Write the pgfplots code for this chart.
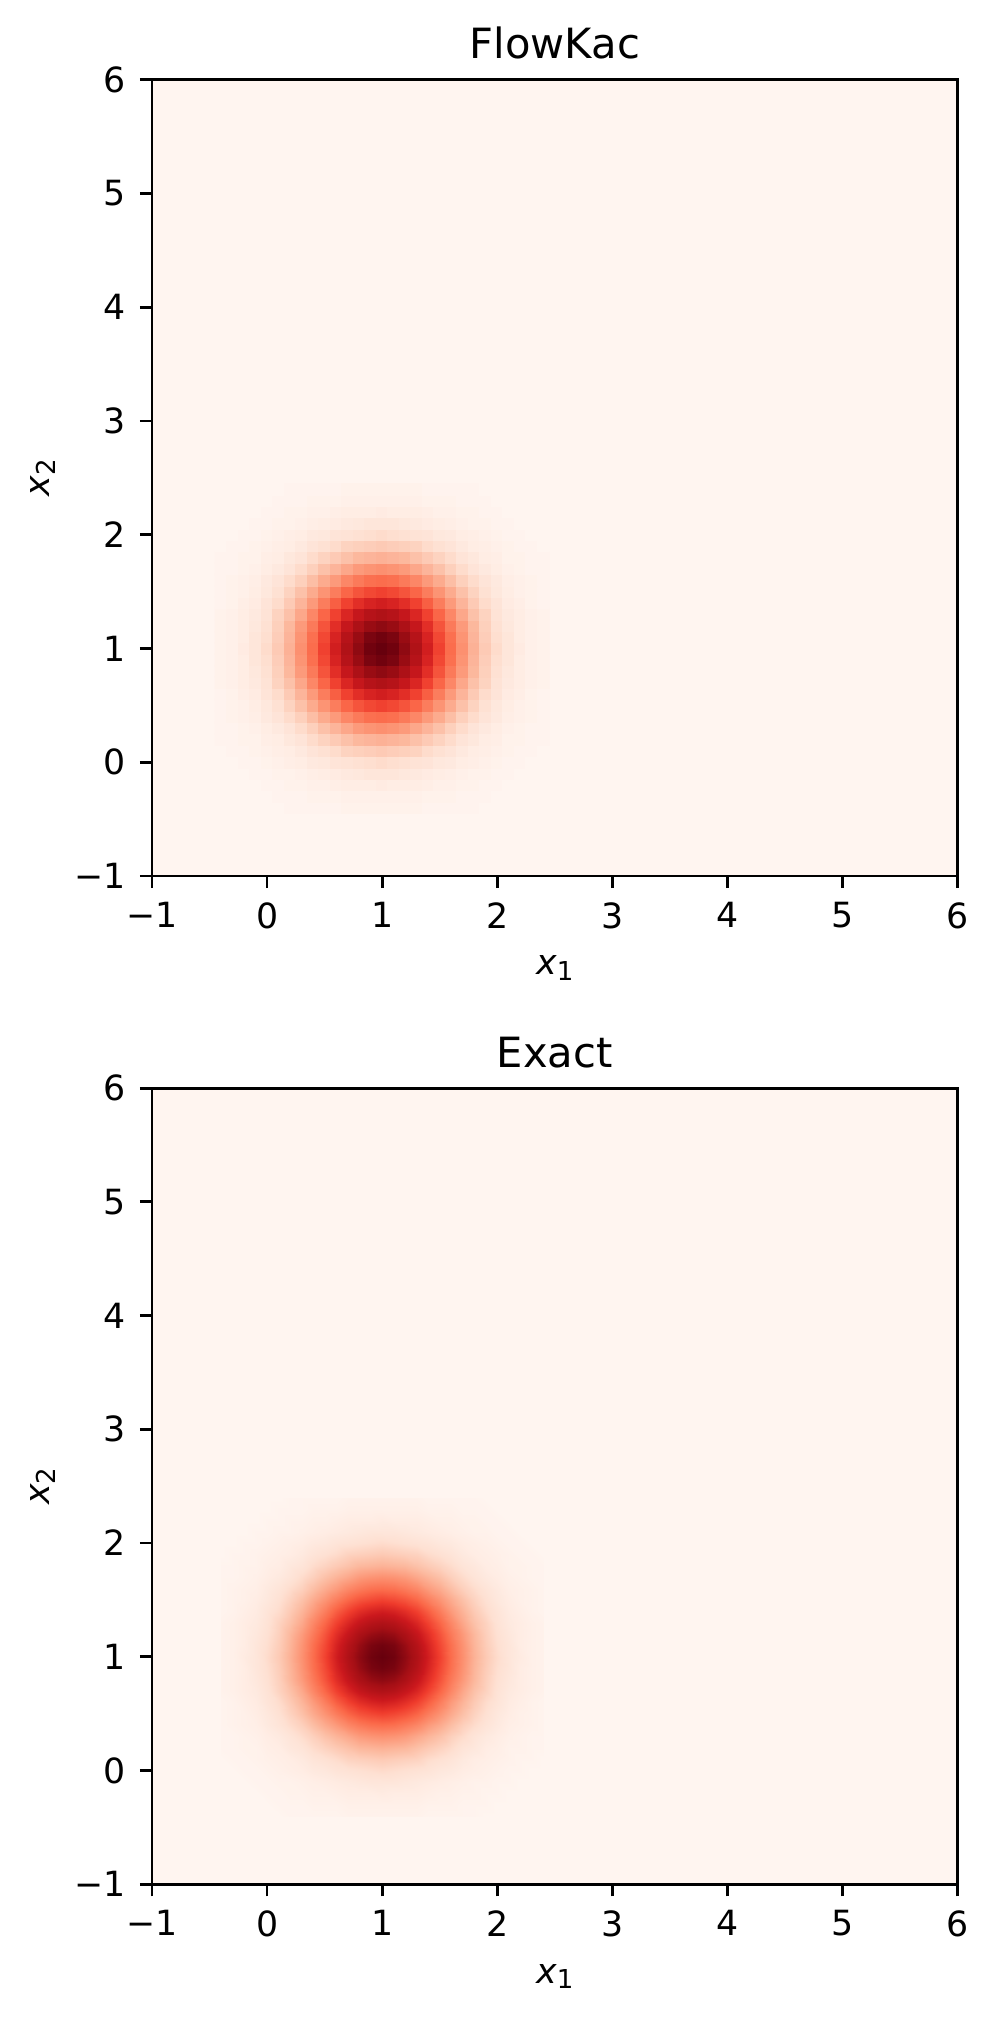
\documentclass[border=0pt]{standalone}
\usepackage{fontspec}
\setmainfont{DejaVu Sans}[ItalicFont={DejaVu Sans Oblique}]
\usepackage{pgfplots}
\pgfplotsset{compat=1.18}
\usepackage{pgfplotstable}
\definecolor{bg}{RGB}{255,245,240}

\pgfplotstableread{
x y c
-0.4 -0.4 0
-0.3 -0.4 0
-0.2 -0.4 0
-0.1 -0.4 0
0 -0.4 0
0.1 -0.4 0
0.2 -0.4 0.01
0.3 -0.4 0.01
0.4 -0.4 0.01
0.5 -0.4 0.01
0.6 -0.4 0.01
0.7 -0.4 0.02
0.8 -0.4 0.02
0.9 -0.4 0.02
1 -0.4 0.02
1.1 -0.4 0.02
1.2 -0.4 0.02
1.3 -0.4 0.02
1.4 -0.4 0.01
1.5 -0.4 0.01
1.6 -0.4 0.01
1.7 -0.4 0.01
1.8 -0.4 0.01
1.9 -0.4 0
2 -0.4 0
2.1 -0.4 0
2.2 -0.4 0
2.3 -0.4 0
2.4 -0.4 0
-0.4 -0.3 0
-0.3 -0.3 0
-0.2 -0.3 0
-0.1 -0.3 0
0 -0.3 0
0.1 -0.3 0.01
0.2 -0.3 0.01
0.3 -0.3 0.01
0.4 -0.3 0.02
0.5 -0.3 0.02
0.6 -0.3 0.02
0.7 -0.3 0.03
0.8 -0.3 0.03
0.9 -0.3 0.03
1 -0.3 0.03
1.1 -0.3 0.03
1.2 -0.3 0.03
1.3 -0.3 0.03
1.4 -0.3 0.02
1.5 -0.3 0.02
1.6 -0.3 0.02
1.7 -0.3 0.01
1.8 -0.3 0.01
1.9 -0.3 0.01
2 -0.3 0
2.1 -0.3 0
2.2 -0.3 0
2.3 -0.3 0
2.4 -0.3 0
-0.4 -0.2 0
-0.3 -0.2 0
-0.2 -0.2 0
-0.1 -0.2 0
0 -0.2 0.01
0.1 -0.2 0.01
0.2 -0.2 0.02
0.3 -0.2 0.02
0.4 -0.2 0.03
0.5 -0.2 0.03
0.6 -0.2 0.04
0.7 -0.2 0.05
0.8 -0.2 0.05
0.9 -0.2 0.05
1 -0.2 0.06
1.1 -0.2 0.05
1.2 -0.2 0.05
1.3 -0.2 0.05
1.4 -0.2 0.04
1.5 -0.2 0.03
1.6 -0.2 0.03
1.7 -0.2 0.02
1.8 -0.2 0.02
1.9 -0.2 0.01
2 -0.2 0.01
2.1 -0.2 0
2.2 -0.2 0
2.3 -0.2 0
2.4 -0.2 0
-0.4 -0.1 0
-0.3 -0.1 0
-0.2 -0.1 0
-0.1 -0.1 0.01
0 -0.1 0.01
0.1 -0.1 0.02
0.2 -0.1 0.02
0.3 -0.1 0.03
0.4 -0.1 0.04
0.5 -0.1 0.05
0.6 -0.1 0.06
0.7 -0.1 0.07
0.8 -0.1 0.08
0.9 -0.1 0.09
1 -0.1 0.09
1.1 -0.1 0.09
1.2 -0.1 0.08
1.3 -0.1 0.07
1.4 -0.1 0.06
1.5 -0.1 0.05
1.6 -0.1 0.04
1.7 -0.1 0.03
1.8 -0.1 0.02
1.9 -0.1 0.02
2 -0.1 0.01
2.1 -0.1 0.01
2.2 -0.1 0
2.3 -0.1 0
2.4 -0.1 0
-0.4 0 0
-0.3 0 0
-0.2 0 0.01
-0.1 0 0.01
0 0 0.02
0.1 0 0.03
0.2 0 0.04
0.3 0 0.05
0.4 0 0.07
0.5 0 0.08
0.6 0 0.10
0.7 0 0.11
0.8 0 0.12
0.9 0 0.13
1 0 0.14
1.1 0 0.13
1.2 0 0.12
1.3 0 0.11
1.4 0 0.10
1.5 0 0.08
1.6 0 0.07
1.7 0 0.05
1.8 0 0.04
1.9 0 0.03
2 0 0.02
2.1 0 0.01
2.2 0 0.01
2.3 0 0
2.4 0 0
-0.4 0.1 0
-0.3 0.1 0.01
-0.2 0.1 0.01
-0.1 0.1 0.02
0 0.1 0.03
0.1 0.1 0.04
0.2 0.1 0.05
0.3 0.1 0.07
0.4 0.1 0.10
0.5 0.1 0.12
0.6 0.1 0.14
0.7 0.1 0.17
0.8 0.1 0.18
0.9 0.1 0.19
1 0.1 0.20
1.1 0.1 0.19
1.2 0.1 0.18
1.3 0.1 0.17
1.4 0.1 0.14
1.5 0.1 0.12
1.6 0.1 0.10
1.7 0.1 0.07
1.8 0.1 0.05
1.9 0.1 0.04
2 0.1 0.03
2.1 0.1 0.02
2.2 0.1 0.01
2.3 0.1 0.01
2.4 0.1 0
-0.4 0.2 0.01
-0.3 0.2 0.01
-0.2 0.2 0.02
-0.1 0.2 0.02
0 0.2 0.04
0.1 0.2 0.05
0.2 0.2 0.08
0.3 0.2 0.10
0.4 0.2 0.14
0.5 0.2 0.17
0.6 0.2 0.20
0.7 0.2 0.23
0.8 0.2 0.26
0.9 0.2 0.27
1 0.2 0.28
1.1 0.2 0.27
1.2 0.2 0.26
1.3 0.2 0.23
1.4 0.2 0.20
1.5 0.2 0.17
1.6 0.2 0.14
1.7 0.2 0.10
1.8 0.2 0.08
1.9 0.2 0.05
2 0.2 0.04
2.1 0.2 0.02
2.2 0.2 0.02
2.3 0.2 0.01
2.4 0.2 0.01
-0.4 0.3 0.01
-0.3 0.3 0.01
-0.2 0.3 0.02
-0.1 0.3 0.03
0 0.3 0.05
0.1 0.3 0.07
0.2 0.3 0.10
0.3 0.3 0.14
0.4 0.3 0.18
0.5 0.3 0.23
0.6 0.3 0.27
0.7 0.3 0.31
0.8 0.3 0.35
0.9 0.3 0.37
1 0.3 0.38
1.1 0.3 0.37
1.2 0.3 0.35
1.3 0.3 0.31
1.4 0.3 0.27
1.5 0.3 0.23
1.6 0.3 0.18
1.7 0.3 0.14
1.8 0.3 0.10
1.9 0.3 0.07
2 0.3 0.05
2.1 0.3 0.03
2.2 0.3 0.02
2.3 0.3 0.01
2.4 0.3 0.01
-0.4 0.4 0.01
-0.3 0.4 0.02
-0.2 0.4 0.03
-0.1 0.4 0.04
0 0.4 0.07
0.1 0.4 0.10
0.2 0.4 0.14
0.3 0.4 0.18
0.4 0.4 0.24
0.5 0.4 0.30
0.6 0.4 0.35
0.7 0.4 0.41
0.8 0.4 0.45
0.9 0.4 0.48
1 0.4 0.49
1.1 0.4 0.48
1.2 0.4 0.45
1.3 0.4 0.41
1.4 0.4 0.35
1.5 0.4 0.30
1.6 0.4 0.24
1.7 0.4 0.18
1.8 0.4 0.14
1.9 0.4 0.10
2 0.4 0.07
2.1 0.4 0.04
2.2 0.4 0.03
2.3 0.4 0.02
2.4 0.4 0.01
-0.4 0.5 0.01
-0.3 0.5 0.02
-0.2 0.5 0.03
-0.1 0.5 0.05
0 0.5 0.08
0.1 0.5 0.12
0.2 0.5 0.17
0.3 0.5 0.23
0.4 0.5 0.30
0.5 0.5 0.37
0.6 0.5 0.44
0.7 0.5 0.51
0.8 0.5 0.56
0.9 0.5 0.59
1 0.5 0.61
1.1 0.5 0.59
1.2 0.5 0.56
1.3 0.5 0.51
1.4 0.5 0.44
1.5 0.5 0.37
1.6 0.5 0.30
1.7 0.5 0.23
1.8 0.5 0.17
1.9 0.5 0.12
2 0.5 0.08
2.1 0.5 0.05
2.2 0.5 0.03
2.3 0.5 0.02
2.4 0.5 0.01
-0.4 0.6 0.01
-0.3 0.6 0.02
-0.2 0.6 0.04
-0.1 0.6 0.06
0 0.6 0.10
0.1 0.6 0.14
0.2 0.6 0.20
0.3 0.6 0.27
0.4 0.6 0.35
0.5 0.6 0.44
0.6 0.6 0.53
0.7 0.6 0.61
0.8 0.6 0.67
0.9 0.6 0.71
1 0.6 0.73
1.1 0.6 0.71
1.2 0.6 0.67
1.3 0.6 0.61
1.4 0.6 0.53
1.5 0.6 0.44
1.6 0.6 0.35
1.7 0.6 0.27
1.8 0.6 0.20
1.9 0.6 0.14
2 0.6 0.10
2.1 0.6 0.06
2.2 0.6 0.04
2.3 0.6 0.02
2.4 0.6 0.01
-0.4 0.7 0.02
-0.3 0.7 0.03
-0.2 0.7 0.05
-0.1 0.7 0.07
0 0.7 0.11
0.1 0.7 0.17
0.2 0.7 0.23
0.3 0.7 0.31
0.4 0.7 0.41
0.5 0.7 0.51
0.6 0.7 0.61
0.7 0.7 0.70
0.8 0.7 0.77
0.9 0.7 0.82
1 0.7 0.84
1.1 0.7 0.82
1.2 0.7 0.77
1.3 0.7 0.70
1.4 0.7 0.61
1.5 0.7 0.51
1.6 0.7 0.41
1.7 0.7 0.31
1.8 0.7 0.23
1.9 0.7 0.17
2 0.7 0.11
2.1 0.7 0.07
2.2 0.7 0.05
2.3 0.7 0.03
2.4 0.7 0.02
-0.4 0.8 0.02
-0.3 0.8 0.03
-0.2 0.8 0.05
-0.1 0.8 0.08
0 0.8 0.12
0.1 0.8 0.18
0.2 0.8 0.26
0.3 0.8 0.35
0.4 0.8 0.45
0.5 0.8 0.56
0.6 0.8 0.67
0.7 0.8 0.77
0.8 0.8 0.85
0.9 0.8 0.90
1 0.8 0.92
1.1 0.8 0.90
1.2 0.8 0.85
1.3 0.8 0.77
1.4 0.8 0.67
1.5 0.8 0.56
1.6 0.8 0.45
1.7 0.8 0.35
1.8 0.8 0.26
1.9 0.8 0.18
2 0.8 0.12
2.1 0.8 0.08
2.2 0.8 0.05
2.3 0.8 0.03
2.4 0.8 0.02
-0.4 0.9 0.02
-0.3 0.9 0.03
-0.2 0.9 0.05
-0.1 0.9 0.09
0 0.9 0.13
0.1 0.9 0.19
0.2 0.9 0.27
0.3 0.9 0.37
0.4 0.9 0.48
0.5 0.9 0.59
0.6 0.9 0.71
0.7 0.9 0.82
0.8 0.9 0.90
0.9 0.9 0.96
1 0.9 0.98
1.1 0.9 0.96
1.2 0.9 0.90
1.3 0.9 0.82
1.4 0.9 0.71
1.5 0.9 0.59
1.6 0.9 0.48
1.7 0.9 0.37
1.8 0.9 0.27
1.9 0.9 0.19
2 0.9 0.13
2.1 0.9 0.09
2.2 0.9 0.05
2.3 0.9 0.03
2.4 0.9 0.02
-0.4 1 0.02
-0.3 1 0.03
-0.2 1 0.06
-0.1 1 0.09
0 1 0.14
0.1 1 0.20
0.2 1 0.28
0.3 1 0.38
0.4 1 0.49
0.5 1 0.61
0.6 1 0.73
0.7 1 0.84
0.8 1 0.92
0.9 1 0.98
1 1 1
1.1 1 0.98
1.2 1 0.92
1.3 1 0.84
1.4 1 0.73
1.5 1 0.61
1.6 1 0.49
1.7 1 0.38
1.8 1 0.28
1.9 1 0.20
2 1 0.14
2.1 1 0.09
2.2 1 0.06
2.3 1 0.03
2.4 1 0.02
-0.4 1.1 0.02
-0.3 1.1 0.03
-0.2 1.1 0.05
-0.1 1.1 0.09
0 1.1 0.13
0.1 1.1 0.19
0.2 1.1 0.27
0.3 1.1 0.37
0.4 1.1 0.48
0.5 1.1 0.59
0.6 1.1 0.71
0.7 1.1 0.82
0.8 1.1 0.90
0.9 1.1 0.96
1 1.1 0.98
1.1 1.1 0.96
1.2 1.1 0.90
1.3 1.1 0.82
1.4 1.1 0.71
1.5 1.1 0.59
1.6 1.1 0.48
1.7 1.1 0.37
1.8 1.1 0.27
1.9 1.1 0.19
2 1.1 0.13
2.1 1.1 0.09
2.2 1.1 0.05
2.3 1.1 0.03
2.4 1.1 0.02
-0.4 1.2 0.02
-0.3 1.2 0.03
-0.2 1.2 0.05
-0.1 1.2 0.08
0 1.2 0.12
0.1 1.2 0.18
0.2 1.2 0.26
0.3 1.2 0.35
0.4 1.2 0.45
0.5 1.2 0.56
0.6 1.2 0.67
0.7 1.2 0.77
0.8 1.2 0.85
0.9 1.2 0.90
1 1.2 0.92
1.1 1.2 0.90
1.2 1.2 0.85
1.3 1.2 0.77
1.4 1.2 0.67
1.5 1.2 0.56
1.6 1.2 0.45
1.7 1.2 0.35
1.8 1.2 0.26
1.9 1.2 0.18
2 1.2 0.12
2.1 1.2 0.08
2.2 1.2 0.05
2.3 1.2 0.03
2.4 1.2 0.02
-0.4 1.3 0.02
-0.3 1.3 0.03
-0.2 1.3 0.05
-0.1 1.3 0.07
0 1.3 0.11
0.1 1.3 0.17
0.2 1.3 0.23
0.3 1.3 0.31
0.4 1.3 0.41
0.5 1.3 0.51
0.6 1.3 0.61
0.7 1.3 0.70
0.8 1.3 0.77
0.9 1.3 0.82
1 1.3 0.84
1.1 1.3 0.82
1.2 1.3 0.77
1.3 1.3 0.70
1.4 1.3 0.61
1.5 1.3 0.51
1.6 1.3 0.41
1.7 1.3 0.31
1.8 1.3 0.23
1.9 1.3 0.17
2 1.3 0.11
2.1 1.3 0.07
2.2 1.3 0.05
2.3 1.3 0.03
2.4 1.3 0.02
-0.4 1.4 0.01
-0.3 1.4 0.02
-0.2 1.4 0.04
-0.1 1.4 0.06
0 1.4 0.10
0.1 1.4 0.14
0.2 1.4 0.20
0.3 1.4 0.27
0.4 1.4 0.35
0.5 1.4 0.44
0.6 1.4 0.53
0.7 1.4 0.61
0.8 1.4 0.67
0.9 1.4 0.71
1 1.4 0.73
1.1 1.4 0.71
1.2 1.4 0.67
1.3 1.4 0.61
1.4 1.4 0.53
1.5 1.4 0.44
1.6 1.4 0.35
1.7 1.4 0.27
1.8 1.4 0.20
1.9 1.4 0.14
2 1.4 0.10
2.1 1.4 0.06
2.2 1.4 0.04
2.3 1.4 0.02
2.4 1.4 0.01
-0.4 1.5 0.01
-0.3 1.5 0.02
-0.2 1.5 0.03
-0.1 1.5 0.05
0 1.5 0.08
0.1 1.5 0.12
0.2 1.5 0.17
0.3 1.5 0.23
0.4 1.5 0.30
0.5 1.5 0.37
0.6 1.5 0.44
0.7 1.5 0.51
0.8 1.5 0.56
0.9 1.5 0.59
1 1.5 0.61
1.1 1.5 0.59
1.2 1.5 0.56
1.3 1.5 0.51
1.4 1.5 0.44
1.5 1.5 0.37
1.6 1.5 0.30
1.7 1.5 0.23
1.8 1.5 0.17
1.9 1.5 0.12
2 1.5 0.08
2.1 1.5 0.05
2.2 1.5 0.03
2.3 1.5 0.02
2.4 1.5 0.01
-0.4 1.6 0.01
-0.3 1.6 0.02
-0.2 1.6 0.03
-0.1 1.6 0.04
0 1.6 0.07
0.1 1.6 0.10
0.2 1.6 0.14
0.3 1.6 0.18
0.4 1.6 0.24
0.5 1.6 0.30
0.6 1.6 0.35
0.7 1.6 0.41
0.8 1.6 0.45
0.9 1.6 0.48
1 1.6 0.49
1.1 1.6 0.48
1.2 1.6 0.45
1.3 1.6 0.41
1.4 1.6 0.35
1.5 1.6 0.30
1.6 1.6 0.24
1.7 1.6 0.18
1.8 1.6 0.14
1.9 1.6 0.10
2 1.6 0.07
2.1 1.6 0.04
2.2 1.6 0.03
2.3 1.6 0.02
2.4 1.6 0.01
-0.4 1.7 0.01
-0.3 1.7 0.01
-0.2 1.7 0.02
-0.1 1.7 0.03
0 1.7 0.05
0.1 1.7 0.07
0.2 1.7 0.10
0.3 1.7 0.14
0.4 1.7 0.18
0.5 1.7 0.23
0.6 1.7 0.27
0.7 1.7 0.31
0.8 1.7 0.35
0.9 1.7 0.37
1 1.7 0.38
1.1 1.7 0.37
1.2 1.7 0.35
1.3 1.7 0.31
1.4 1.7 0.27
1.5 1.7 0.23
1.6 1.7 0.18
1.7 1.7 0.14
1.8 1.7 0.10
1.9 1.7 0.07
2 1.7 0.05
2.1 1.7 0.03
2.2 1.7 0.02
2.3 1.7 0.01
2.4 1.7 0.01
-0.4 1.8 0.01
-0.3 1.8 0.01
-0.2 1.8 0.02
-0.1 1.8 0.02
0 1.8 0.04
0.1 1.8 0.05
0.2 1.8 0.08
0.3 1.8 0.10
0.4 1.8 0.14
0.5 1.8 0.17
0.6 1.8 0.20
0.7 1.8 0.23
0.8 1.8 0.26
0.9 1.8 0.27
1 1.8 0.28
1.1 1.8 0.27
1.2 1.8 0.26
1.3 1.8 0.23
1.4 1.8 0.20
1.5 1.8 0.17
1.6 1.8 0.14
1.7 1.8 0.10
1.8 1.8 0.08
1.9 1.8 0.05
2 1.8 0.04
2.1 1.8 0.02
2.2 1.8 0.02
2.3 1.8 0.01
2.4 1.8 0.01
-0.4 1.9 0
-0.3 1.9 0.01
-0.2 1.9 0.01
-0.1 1.9 0.02
0 1.9 0.03
0.1 1.9 0.04
0.2 1.9 0.05
0.3 1.9 0.07
0.4 1.9 0.10
0.5 1.9 0.12
0.6 1.9 0.14
0.7 1.9 0.17
0.8 1.9 0.18
0.9 1.9 0.19
1 1.9 0.20
1.1 1.9 0.19
1.2 1.9 0.18
1.3 1.9 0.17
1.4 1.9 0.14
1.5 1.9 0.12
1.6 1.9 0.10
1.7 1.9 0.07
1.8 1.9 0.05
1.9 1.9 0.04
2 1.9 0.03
2.1 1.9 0.02
2.2 1.9 0.01
2.3 1.9 0.01
2.4 1.9 0
-0.4 2 0
-0.3 2 0
-0.2 2 0.01
-0.1 2 0.01
0 2 0.02
0.1 2 0.03
0.2 2 0.04
0.3 2 0.05
0.4 2 0.07
0.5 2 0.08
0.6 2 0.10
0.7 2 0.11
0.8 2 0.12
0.9 2 0.13
1 2 0.14
1.1 2 0.13
1.2 2 0.12
1.3 2 0.11
1.4 2 0.10
1.5 2 0.08
1.6 2 0.07
1.7 2 0.05
1.8 2 0.04
1.9 2 0.03
2 2 0.02
2.1 2 0.01
2.2 2 0.01
2.3 2 0
2.4 2 0
-0.4 2.1 0
-0.3 2.1 0
-0.2 2.1 0
-0.1 2.1 0.01
0 2.1 0.01
0.1 2.1 0.02
0.2 2.1 0.02
0.3 2.1 0.03
0.4 2.1 0.04
0.5 2.1 0.05
0.6 2.1 0.06
0.7 2.1 0.07
0.8 2.1 0.08
0.9 2.1 0.09
1 2.1 0.09
1.1 2.1 0.09
1.2 2.1 0.08
1.3 2.1 0.07
1.4 2.1 0.06
1.5 2.1 0.05
1.6 2.1 0.04
1.7 2.1 0.03
1.8 2.1 0.02
1.9 2.1 0.02
2 2.1 0.01
2.1 2.1 0.01
2.2 2.1 0
2.3 2.1 0
2.4 2.1 0
-0.4 2.2 0
-0.3 2.2 0
-0.2 2.2 0
-0.1 2.2 0
0 2.2 0.01
0.1 2.2 0.01
0.2 2.2 0.02
0.3 2.2 0.02
0.4 2.2 0.03
0.5 2.2 0.03
0.6 2.2 0.04
0.7 2.2 0.05
0.8 2.2 0.05
0.9 2.2 0.05
1 2.2 0.06
1.1 2.2 0.05
1.2 2.2 0.05
1.3 2.2 0.05
1.4 2.2 0.04
1.5 2.2 0.03
1.6 2.2 0.03
1.7 2.2 0.02
1.8 2.2 0.02
1.9 2.2 0.01
2 2.2 0.01
2.1 2.2 0
2.2 2.2 0
2.3 2.2 0
2.4 2.2 0
-0.4 2.3 0
-0.3 2.3 0
-0.2 2.3 0
-0.1 2.3 0
0 2.3 0
0.1 2.3 0.01
0.2 2.3 0.01
0.3 2.3 0.01
0.4 2.3 0.02
0.5 2.3 0.02
0.6 2.3 0.02
0.7 2.3 0.03
0.8 2.3 0.03
0.9 2.3 0.03
1 2.3 0.03
1.1 2.3 0.03
1.2 2.3 0.03
1.3 2.3 0.03
1.4 2.3 0.02
1.5 2.3 0.02
1.6 2.3 0.02
1.7 2.3 0.01
1.8 2.3 0.01
1.9 2.3 0.01
2 2.3 0
2.1 2.3 0
2.2 2.3 0
2.3 2.3 0
2.4 2.3 0
-0.4 2.4 0
-0.3 2.4 0
-0.2 2.4 0
-0.1 2.4 0
0 2.4 0
0.1 2.4 0
0.2 2.4 0.01
0.3 2.4 0.01
0.4 2.4 0.01
0.5 2.4 0.01
0.6 2.4 0.01
0.7 2.4 0.02
0.8 2.4 0.02
0.9 2.4 0.02
1 2.4 0.02
1.1 2.4 0.02
1.2 2.4 0.02
1.3 2.4 0.02
1.4 2.4 0.01
1.5 2.4 0.01
1.6 2.4 0.01
1.7 2.4 0.01
1.8 2.4 0.01
1.9 2.4 0
2 2.4 0
2.1 2.4 0
2.2 2.4 0
2.3 2.4 0
2.4 2.4 0
}\dens

\newcommand{\lab}[1]{\textit{x}\raisebox{-1.5pt}{\fontsize{7.5}{9}\selectfont #1}}

\pgfplotsset{
  myax/.style={
    scale only axis, width=232pt, height=229.3pt,
    xmin=-1, xmax=6, ymin=-1, ymax=6, enlargelimits=false,
    axis on top,
    axis background/.style={fill=bg},
    colormap={reds}{rgb255=(255,245,240) rgb255=(254,224,210) rgb255=(252,187,161) rgb255=(252,146,114) rgb255=(251,106,74) rgb255=(239,59,44) rgb255=(203,24,29) rgb255=(165,15,21) rgb255=(103,0,13)},
    point meta min=0, point meta max=1,
    xtick={-1,0,1,2,3,4,5,6}, ytick={-1,0,1,2,3,4,5,6},
    xticklabels={−1,0,1,2,3,4,5,6}, yticklabels={−1,0,1,2,3,4,5,6},
    tick pos=left, tick align=outside, major tick length=3.5pt,
    every tick/.style={black, line width=0.8pt},
    axis line style={black, line width=0.8pt},
    tick label style={font=\fontsize{10}{12}\selectfont},
    xticklabel style={anchor=north, inner sep=0pt, yshift=-3.9pt},
    yticklabel style={anchor=east, inner sep=0pt, xshift=-4pt},
    every axis title/.style={at={(0.5,1)}, anchor=base, yshift=6pt, inner sep=0pt, font=\fontsize{12}{14}\selectfont},
    every axis x label/.style={at={(axis description cs:0.5,0)}, anchor=base, yshift=-28.5pt, inner sep=0pt, font=\fontsize{10}{12}\selectfont},
    every axis y label/.style={at={(axis description cs:0,0.5)}, xshift=-29.4pt, rotate=90, anchor=base, inner sep=0pt, font=\fontsize{10}{12}\selectfont},
    xlabel={\lab{1}}, ylabel={\lab{2}},
  }
}

\begin{document}
\begin{tikzpicture}
\useasboundingbox (0pt,0pt) rectangle (286.56pt,581.47pt);
\begin{axis}[myax, at={(43.78pt,329.2pt)}, anchor=south west, title={FlowKac}]
\addplot[matrix plot*, mesh/cols=29, point meta=explicit] table[x=x, y=y, meta=c] {\dens};
\end{axis}
\begin{axis}[myax, at={(43.78pt,38.8pt)}, anchor=south west, title={Exact}]
\addplot[surf, shader=interp, mesh/cols=29, point meta=explicit] table[x=x, y=y, meta=c] {\dens};
\end{axis}
\end{tikzpicture}
\end{document}
